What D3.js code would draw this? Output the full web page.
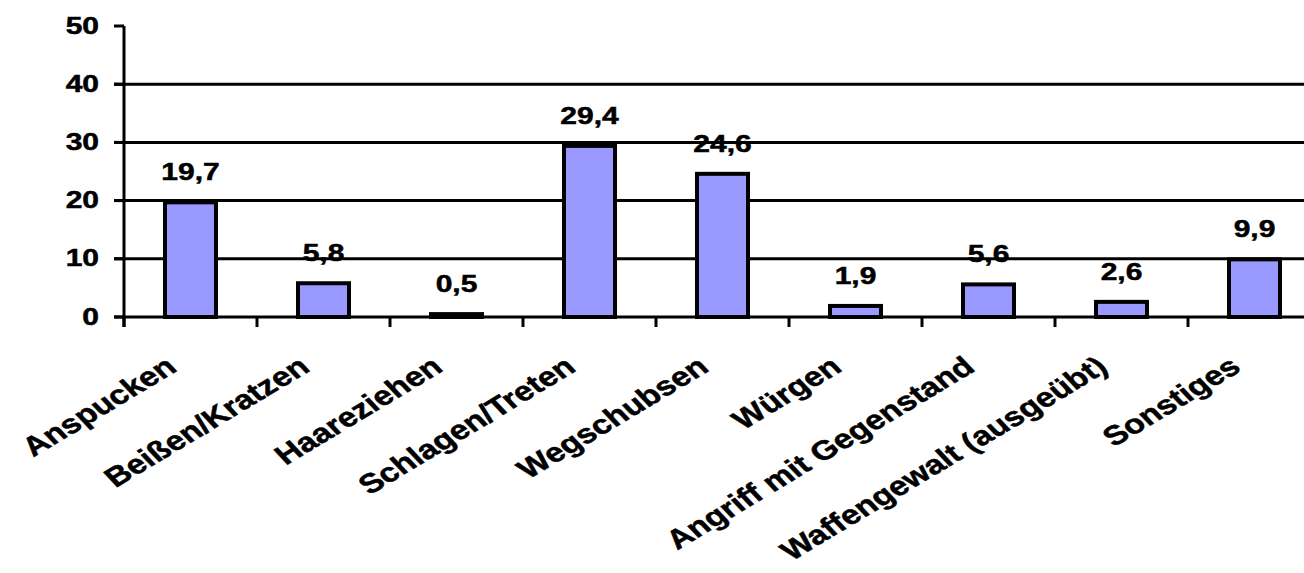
<!DOCTYPE html>
<html>
<head>
<meta charset="utf-8">
<script src="https://cdn.jsdelivr.net/npm/d3@7"></script>
<style>
  html, body { margin: 0; padding: 0; background: #fff; }
  svg { display: block; }
  text { font-family: "Liberation Sans", Arial, sans-serif; font-weight: bold; fill: #000;
         stroke: #000; stroke-width: 0.5px; }
</style>
</head>
<body>
<svg id="chart" width="1304" height="573"></svg>
<script>
// Formen körperlicher Gewalt (Angaben in %)
const categories = [
  "Anspucken", "Beißen/Kratzen", "Haareziehen", "Schlagen/Treten",
  "Wegschubsen", "Würgen", "Angriff mit Gegenstand",
  "Waffengewalt (ausgeübt)", "Sonstiges"
];
const values = [19.7, 5.8, 0.5, 29.4, 24.6, 1.9, 5.6, 2.6, 9.9];
const yTicks = [0, 10, 20, 30, 40, 50];

const svg = d3.select("#chart");
const W = 1304;
const stretch = 1.25;          // horizontal glyph stretch
const fmt = v => d3.format(".1f")(v).replace(".", ",");

const x = d3.scaleBand()
  .domain(categories)
  .range([124, 124 + 133 * categories.length])
  .paddingInner(0).paddingOuter(0);

const y = d3.scaleLinear().domain([0, 50]).range([317, 26]);

const barW = 51;

// horizontal grid lines (not at the top value)
svg.append("g")
  .selectAll("line")
  .data(yTicks.filter(t => t > 0 && t < 50))
  .join("line")
  .attr("x1", 114).attr("x2", W)
  .attr("y1", d => y(d)).attr("y2", d => y(d))
  .attr("stroke", "#000").attr("stroke-width", 3);

// bars
svg.append("g")
  .selectAll("rect")
  .data(values)
  .join("rect")
  .attr("x", (d, i) => x(categories[i]) + x.bandwidth() / 2 - barW / 2)
  .attr("y", d => y(d))
  .attr("width", barW)
  .attr("height", d => y(0) - y(d))
  .attr("fill", "#9999FF")
  .attr("stroke", "#000")
  .attr("stroke-width", 4);

// y axis
svg.append("line")
  .attr("x1", 124).attr("x2", 124)
  .attr("y1", y(50)).attr("y2", 327)
  .attr("stroke", "#000").attr("stroke-width", 3);

svg.append("g")
  .selectAll("line")
  .data(yTicks)
  .join("line")
  .attr("x1", 114).attr("x2", 124)
  .attr("y1", d => y(d)).attr("y2", d => y(d))
  .attr("stroke", "#000").attr("stroke-width", 3);

svg.append("g")
  .selectAll("text")
  .data(yTicks)
  .join("text")
  .attr("transform", d => `translate(99,${y(d) - 1}) scale(${stretch},1)`)
  .attr("text-anchor", "end")
  .attr("dy", "0.36em")
  .attr("font-size", 24)
  .text(d => d);

// x axis
svg.append("line")
  .attr("x1", 114).attr("x2", W)
  .attr("y1", y(0)).attr("y2", y(0))
  .attr("stroke", "#000").attr("stroke-width", 3);

svg.append("g")
  .selectAll("line")
  .data(d3.range(categories.length + 1))
  .join("line")
  .attr("x1", i => 124 + i * x.step()).attr("x2", i => 124 + i * x.step())
  .attr("y1", y(0)).attr("y2", 327)
  .attr("stroke", "#000").attr("stroke-width", 3);

// value labels
svg.append("g")
  .selectAll("text")
  .data(values)
  .join("text")
  .attr("transform", (d, i) =>
    `translate(${x(categories[i]) + x.bandwidth() / 2},${y(d) - 22}) scale(${stretch},1)`)
  .attr("text-anchor", "middle")
  .attr("font-size", 24)
  .text(d => fmt(d));

// category labels, rotated
svg.append("g")
  .selectAll("text")
  .data(categories)
  .join("text")
  .attr("transform", d =>
    `translate(${x(d) + x.bandwidth() / 2 - 12},370) scale(${stretch},1) rotate(-37)`)
  .attr("text-anchor", "end")
  .attr("font-size", 27)
  .text(d => d);
</script>
</body>
</html>
